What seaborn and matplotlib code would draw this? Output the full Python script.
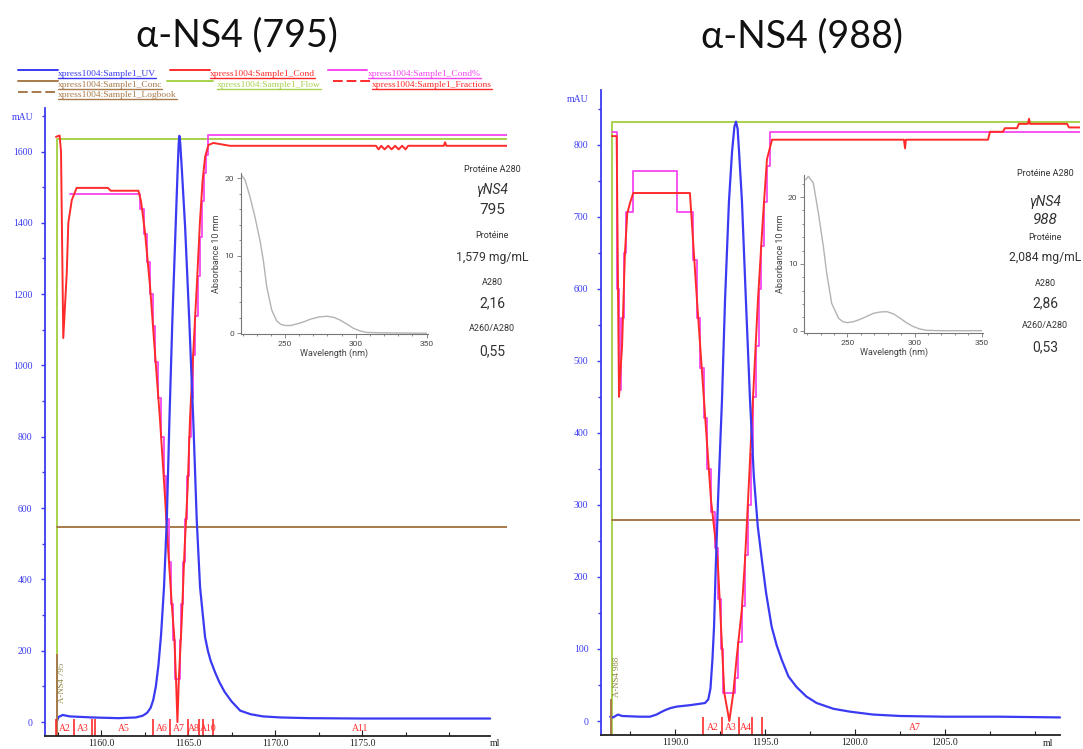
import matplotlib.pyplot as plt
from matplotlib.lines import Line2D
from matplotlib.ticker import FixedLocator, MultipleLocator
import seaborn as sns

# ---------------- data ----------------
# run 795 (left)
uv795_ml = [1157.45, 1157.55, 1157.8, 1158.2, 1159.5, 1161.0, 1162.0, 1162.4, 1162.65, 1162.85,
            1163.0, 1163.15, 1163.3, 1163.45, 1163.62, 1163.78, 1163.93, 1164.1, 1164.3, 1164.4,
            1164.46, 1164.5, 1164.55, 1164.65, 1164.83, 1165.07, 1165.3, 1165.5, 1165.69, 1165.85,
            1165.98, 1166.15, 1166.3, 1166.55, 1166.8, 1167.1, 1167.5, 1168.0, 1168.6, 1169.3,
            1170.3, 1172.0, 1175.0, 1182.36]
uv795_mau = [0, 14, 20, 16, 13, 11, 13, 18, 26, 40,
             62, 100, 160, 245, 379, 567, 847, 1128, 1408, 1545,
             1620, 1644, 1625, 1545, 1390, 1128, 847, 567, 379, 300,
             238, 198, 172, 140, 112, 85, 58, 32, 22, 16,
             13, 11, 10, 10]
cond795_ml = [1157.41, 1157.62, 1157.70, 1157.83, 1158.03, 1158.12, 1158.32, 1158.60, 1160.40, 1160.55,
              1162.15, 1162.30, 1162.53, 1162.82, 1163.10, 1163.39, 1163.64, 1163.87, 1164.06, 1164.21,
              1164.31, 1164.39, 1164.47, 1164.64, 1164.79, 1164.98, 1165.11, 1165.30, 1165.50, 1165.69,
              1165.84, 1165.98, 1166.17, 1166.45, 1167.41, 1175.80, 1175.95, 1176.1, 1176.3, 1176.5,
              1176.7, 1176.9, 1177.1, 1177.3, 1177.5, 1177.65, 1179.70, 1179.77, 1179.85, 1183.33]
cond795_val = [1641, 1645, 1600, 1077, 1259, 1400, 1464, 1498, 1498, 1490,
               1490, 1460, 1372, 1220, 1035, 847, 659, 474, 334, 238,
               118, 0, 118, 286, 474, 659, 847, 1035, 1220, 1408,
               1520, 1585, 1618, 1624, 1616, 1616, 1606, 1616, 1606, 1616,
               1606, 1616, 1606, 1616, 1606, 1616, 1616, 1626, 1616, 1616]
condpct795_ml = [1158.20, 1162.24, 1162.45, 1162.62, 1162.80, 1162.97, 1163.12, 1163.28, 1163.45, 1163.60,
                 1163.75, 1163.90, 1164.03, 1164.15, 1164.25, 1164.55, 1164.62, 1164.72, 1164.82, 1164.93,
                 1165.05, 1165.17, 1165.30, 1165.42, 1165.55, 1165.68, 1165.80, 1165.92, 1166.05, 1166.17,
                 1183.33]
condpct795_val = [1481, 1440, 1370, 1290, 1200, 1110, 1010, 910, 800, 690,
                  570, 450, 330, 230, 120, 230, 330, 450, 570, 690,
                  800, 910, 1030, 1140, 1250, 1360, 1460, 1540, 1590, 1645,
                  1645]
flow795_ml = [1157.47, 1157.47, 1183.33]
flow795_val = [-39, 1636, 1636]
conc795_ml = [1157.47, 1183.33]
conc795_val = [547, 547]
logbook795_ml = 1157.45
frac795_ml = [1157.41, 1158.45, 1159.48, 1159.66, 1162.97, 1163.97, 1164.98, 1165.65, 1165.88, 1166.42]
frac795_labels = ['A2', 'A3', 'A5', 'A6', 'A7', 'A8', 'A10', 'A11']
frac795_label_ml = [1157.93, 1158.97, 1161.32, 1163.48, 1164.48, 1165.32, 1166.15, 1174.88]

# run 988 (right)
uv988_ml = [1186.40, 1186.56, 1186.83, 1187.06, 1188.06, 1188.61, 1188.98, 1189.2, 1189.44, 1189.75,
            1190.09, 1190.83, 1191.4, 1191.67, 1191.85, 1191.97, 1192.08, 1192.17, 1192.26, 1192.39,
            1192.61, 1192.78, 1192.9, 1193.0, 1193.17, 1193.3, 1193.39, 1193.48, 1193.56, 1193.72,
            1193.94, 1194.17, 1194.38, 1194.6, 1194.87, 1195.06, 1195.37, 1195.65, 1195.93, 1196.3,
            1196.76, 1197.3, 1197.87, 1198.8, 1199.72, 1201.0, 1202.5, 1205.0, 1208.06, 1211.39]
uv988_mau = [6, 5, 9, 7, 6, 6, 9, 12, 15, 18,
             20, 22, 24, 25, 30, 45, 85, 131, 210, 306,
             445, 584, 660, 722, 790, 825, 832, 822, 790, 722,
             584, 445, 340, 270, 215, 178, 131, 105, 85, 62,
             47, 34, 25, 17, 13, 9, 7, 6, 6, 5]
cond988_ml = [1186.50, 1186.76, 1186.80, 1186.89, 1186.94, 1187.06, 1187.22, 1187.35, 1187.50, 1187.68,
              1190.83, 1191.22, 1191.61, 1192.00, 1192.37, 1192.65, 1192.74, 1193.02, 1193.24, 1193.43,
              1193.71, 1193.89, 1194.06, 1194.33, 1194.61, 1194.89, 1195.11, 1195.39, 1202.72, 1202.78,
              1202.83, 1207.39, 1207.50, 1208.22, 1208.33, 1209.00, 1209.10, 1209.60, 1209.67, 1209.72,
              1211.78, 1211.89, 1212.50]
cond988_val = [812, 812, 700, 450, 474, 520, 650, 705, 719, 733,
               733, 585, 446, 307, 224, 85, 39, 0, 39, 89,
               154, 224, 307, 446, 585, 700, 780, 807, 807, 795,
               807, 807, 818, 818, 823, 823, 829, 829, 836, 829,
               829, 824, 824]
condpct988_ml = [1186.48, 1186.80, 1186.88, 1187.00, 1187.15, 1187.30, 1187.68, 1190.11, 1191.00, 1191.20,
                 1191.40, 1191.60, 1191.80, 1192.00, 1192.20, 1192.40, 1192.55, 1192.67, 1193.33, 1193.50,
                 1193.70, 1193.90, 1194.05, 1194.20, 1194.35, 1194.50, 1194.65, 1194.80, 1194.95, 1195.10,
                 1195.28, 1212.50]
condpct988_val = [818, 600, 460, 560, 650, 706, 763, 706, 640, 560,
                  490, 420, 350, 290, 240, 170, 100, 39, 60, 110,
                  160, 230, 300, 370, 450, 520, 600, 660, 720, 770,
                  818, 818]
flow988_ml = [1186.48, 1186.48, 1212.5]
flow988_val = [-19.4, 832, 832]
conc988_ml = [1186.48, 1212.5]
conc988_val = [279, 279]
logbook988_ml = 1186.44
frac988_ml = [1191.57, 1192.63, 1193.56, 1194.26, 1194.81]
frac988_labels = ['A2', 'A3', 'A4', 'A7']
frac988_label_ml = [1192.09, 1193.09, 1193.93, 1203.33]

# absorbance spectra (insets)
wl795 = [219.4, 221.8, 225.3, 228.8, 232.3, 234.7, 237.1, 240.6, 244.1, 247.0,
         250.0, 254.0, 258.3, 263.0, 267.7, 274.0, 279.5, 284.5, 288.9, 293.5,
         298.3, 303.0, 307.7, 319.2, 350.0]
abs795 = [20.4, 19.8, 17.6, 15.0, 12.0, 9.4, 6.0, 3.0, 1.6, 1.15,
          1.0, 1.0, 1.2, 1.45, 1.8, 2.1, 2.2, 2.05, 1.7, 1.2,
          0.64, 0.3, 0.1, 0.05, 0.0]
wl988 = [219.0, 220.9, 224.6, 228.4, 232.1, 234.6, 238.3, 243.3, 246.5, 250.0,
         254.5, 259.5, 264.5, 269.4, 274.5, 279.4, 284.5, 289.3, 294.3, 299.3,
         304.0, 309.2, 320.0, 350.0]
abs988 = [22.6, 23.1, 22.1, 17.6, 12.6, 8.6, 4.1, 1.9, 1.35, 1.2,
          1.35, 1.7, 2.15, 2.6, 2.8, 2.85, 2.5, 1.86, 1.15, 0.6,
          0.25, 0.05, 0.0, 0.0]

titles = ['α-NS4 (795)', 'α-NS4 (988)']
info795 = ['Protéine A280', 'γNS4', '795', 'Protéine', '1,579 mg/mL', 'A280', '2,16', 'A260/A280', '0,55']
info988 = ['Protéine A280', 'γNS4', '988', 'Protéine', '2,084 mg/mL', 'A280', '2,86', 'A260/A280', '0,53']
legend_names = ['xpress1004:Sample1_UV', 'xpress1004:Sample1_Cond', 'xpress1004:Sample1_Cond%',
                'xpress1004:Sample1_Conc', 'xpress1004:Sample1_Flow', 'xpress1004:Sample1_Fractions',
                'xpress1004:Sample1_Logbook']

BLUE = '#3a3af2'
RED = '#ff2b2b'
MAGENTA = '#f646ee'
GREEN = '#a9d24e'
BROWN = '#a87a4c'
OLIVE = '#8c8440'

W, H = 1083, 749

sns.set_theme(style="ticks")
plt.rcParams['font.family'] = ['Liberation Serif', 'DejaVu Serif']

fig = plt.figure(figsize=(W / 100, H / 100), dpi=100)
fig.patch.set_facecolor('white')


def fx(px):
    return px / W


def fy(py):
    return 1 - py / H


def line(ax, x, y, color, lw, **kw):
    sns.lineplot(x=x, y=y, ax=ax, color=color, lw=lw, sort=False, estimator=None, **kw)


def chromatogram(rect, xlim, ylim, spine_end, uv, cond, condpct, flow, conc,
                 log_ml, log_text, log_top, log_y, fracs, frac_top, labels, label_ml, label_y,
                 ymajor, yminor, xmajor, xminor):
    ax = fig.add_axes(rect)
    ax.set_facecolor('none')
    line(ax, flow[0], flow[1], GREEN, 1.4)
    line(ax, conc[0], conc[1], BROWN, 1.4)
    line(ax, condpct[0], condpct[1], MAGENTA, 1.3, drawstyle='steps-post')
    line(ax, cond[0], cond[1], RED, 1.4)
    line(ax, uv[0], uv[1], BLUE, 1.6)
    ax.vlines([log_ml], ylim[0], log_top, color=BROWN, lw=1.4)
    ax.text(log_ml + 0.1, log_y, log_text, rotation=90, color=OLIVE, fontsize=6.3,
            ha='left', va='center')
    ax.vlines(fracs, ylim[0], frac_top, color=RED, lw=1.2)
    for lab, xm in zip(labels, label_ml):
        ax.text(xm, label_y, lab, color=RED, fontsize=7, ha='center', va='center')

    ax.set_xlim(xlim)
    ax.set_ylim(ylim)
    ax.set_xlabel('')
    ax.set_ylabel('')
    for s in ['top', 'right']:
        ax.spines[s].set_visible(False)
    ax.spines['left'].set_color(BLUE)
    ax.spines['left'].set_linewidth(1.3)
    ax.spines['bottom'].set_color('#222222')
    ax.spines['bottom'].set_linewidth(1.3)
    ax.spines['bottom'].set_bounds(xlim[0], spine_end)

    ax.set_xticks(xmajor, labels=[f'{v:.1f}' for v in xmajor])
    ax.xaxis.set_minor_locator(FixedLocator(xminor))
    ax.set_yticks(ymajor, labels=[str(v) for v in ymajor])
    ax.yaxis.set_minor_locator(FixedLocator(yminor))
    ax.tick_params(axis='x', which='both', direction='in', color='#222222', labelcolor='#222222',
                   labelsize=7, pad=2, width=0.8)
    ax.tick_params(axis='x', which='major', length=4)
    ax.tick_params(axis='x', which='minor', length=3)
    ax.tick_params(axis='y', which='both', direction='out', color=BLUE, labelcolor=BLUE,
                   labelsize=7, pad=6, width=1.0)
    ax.tick_params(axis='y', which='major', length=3)
    ax.tick_params(axis='y', which='minor', length=2)
    return ax


ax1 = chromatogram([fx(45), fy(736), (507 - 45) / W, (736 - 108) / H],
                   (1156.78, 1183.33), (-39, 1722), 1182.36,
                   (uv795_ml, uv795_mau), (cond795_ml, cond795_val), (condpct795_ml, condpct795_val),
                   (flow795_ml, flow795_val), (conc795_ml, conc795_val),
                   logbook795_ml, 'A-NS4 795', 190, 110,
                   frac795_ml, 8, frac795_labels, frac795_label_ml, -17,
                   list(range(0, 1601, 200)), list(range(100, 1701, 200)),
                   [1160, 1165, 1170, 1175], [1157.5, 1162.5, 1167.5, 1172.5, 1177.5, 1180])

ax2 = chromatogram([fx(601), fy(735), (1080 - 601) / W, (735 - 90) / H],
                   (1185.89, 1212.5), (-19.4, 876), 1211.39,
                   (uv988_ml, uv988_mau), (cond988_ml, cond988_val), (condpct988_ml, condpct988_val),
                   (flow988_ml, flow988_val), (conc988_ml, conc988_val),
                   logbook988_ml, 'A-NS4 988', 30, 62,
                   frac988_ml, 6, frac988_labels, frac988_label_ml, -9.5,
                   list(range(0, 801, 100)), list(range(50, 851, 100)),
                   [1190, 1195, 1200, 1205], [1187.5, 1192.5, 1197.5, 1202.5, 1207.5, 1210])

# axis unit labels
fig.text(fx(23), fy(117), 'mAU', color=BLUE, fontsize=7, ha='center', va='center')
fig.text(fx(578), fy(100), 'mAU', color=BLUE, fontsize=7, ha='center', va='center')
fig.text(fx(495), fy(744), 'ml', color='#222222', fontsize=7, ha='center', va='center')
fig.text(fx(1048), fy(743), 'ml', color='#222222', fontsize=7, ha='center', va='center')

# titles
title_font = ['Lato', 'DejaVu Sans']
fig.text(fx(237), fy(35), titles[0], fontsize=27, family=title_font, ha='center', va='center',
         color='#111111')
fig.text(fx(802), fy(36), titles[1], fontsize=27, family=title_font, ha='center', va='center',
         color='#111111')

# chromatogram legend (top left): line, then underlined name
legend_rows = [
    (18, 58, 70, 58, 76, 0, BLUE, False), (170, 210, 70, 210, 76, 1, RED, False),
    (328, 367, 70, 368, 76, 2, MAGENTA, False),
    (18, 58, 81, 58, 87, 3, BROWN, False), (167, 213, 81, 217, 87, 4, GREEN, False),
    (333, 370, 81, 372, 87, 5, RED, True),
    (18, 58, 92, 58, 97, 6, BROWN, True),
]
renderer = fig.canvas.get_renderer()
for x0, x1, ly, tx, ty, i, col, dashed in legend_rows:
    fig.add_artist(Line2D([fx(x0), fx(x1)], [fy(ly), fy(ly)], transform=fig.transFigure,
                          color=col, lw=1.4, ls=(0, (5, 2)) if dashed else '-'))
    t = fig.text(fx(tx), fy(ty), legend_names[i], color=col, fontsize=6.8, ha='left', va='baseline')
    bb = t.get_window_extent(renderer).transformed(fig.transFigure.inverted())
    fig.add_artist(Line2D([bb.x0, bb.x1], [fy(ty + 1.5), fy(ty + 1.5)], transform=fig.transFigure,
                          color=col, lw=1.0))

# absorbance insets
sans = ['Roboto', 'DejaVu Sans']


def spectrum(rect, wl, ab, xlim, ylim):
    ax = fig.add_axes(rect)
    ax.set_facecolor('none')
    line(ax, wl, ab, '#b3b3b3', 1.0)
    ax.set_xlim(xlim)
    ax.set_ylim(ylim)
    sns.despine(ax=ax)
    for s in ['left', 'bottom']:
        ax.spines[s].set_color('#777777')
        ax.spines[s].set_linewidth(0.8)
    ax.set_xticks([250, 300, 350], labels=['250', '300', '350'], fontfamily=sans)
    ax.set_yticks([0, 10, 20], labels=['0', '10', '20'], fontfamily=sans)
    ax.xaxis.set_minor_locator(MultipleLocator(10))
    ax.yaxis.set_minor_locator(MultipleLocator(2))
    ax.tick_params(which='both', direction='out', color='#777777', labelcolor='#444444',
                   labelsize=6, width=0.6, pad=2)
    ax.tick_params(which='major', length=3)
    ax.tick_params(which='minor', length=1.5)
    ax.set_xlabel('Wavelength (nm)', fontsize=6.5, color='#444444', labelpad=1, family=sans)
    ax.set_ylabel('Absorbance 10 mm', fontsize=6.5, color='#444444', labelpad=2, family=sans)
    return ax


spectrum([fx(240.7), fy(334), (428 - 240.7) / W, (334 - 173) / H], wl795, abs795,
         (218.7, 351), (-0.1, 20.7))
spectrum([fx(804.3), fy(332.7), (983 - 804.3) / W, (332.7 - 175) / H], wl988, abs988,
         (217.9, 351), (-0.3, 23.3))

# protein readout next to each inset
small, big = 6.5, 8.7
info_layout_795 = [(170, small, False), (190, 10, True), (210, 11, False), (235, small, False),
                   (257, big, False), (282, small, False), (303, 10, False), (329, small, False),
                   (351, 10, False)]
info_layout_988 = [(173, small, False), (202, 10, True), (220, 11, True), (237, small, False),
                   (257, big, False), (283, small, False), (303, 10, False), (326, small, False),
                   (347, 10, False)]
for cx, texts, layout in [(492, info795, info_layout_795), (1045, info988, info_layout_988)]:
    for txt, (py, size, hand) in zip(texts, layout):
        fig.text(fx(cx), fy(py), txt, fontsize=size, ha='center', va='center',
                 family=sans, color='#333333', style='italic' if hand else 'normal')

plt.savefig('out.png', dpi=100)
